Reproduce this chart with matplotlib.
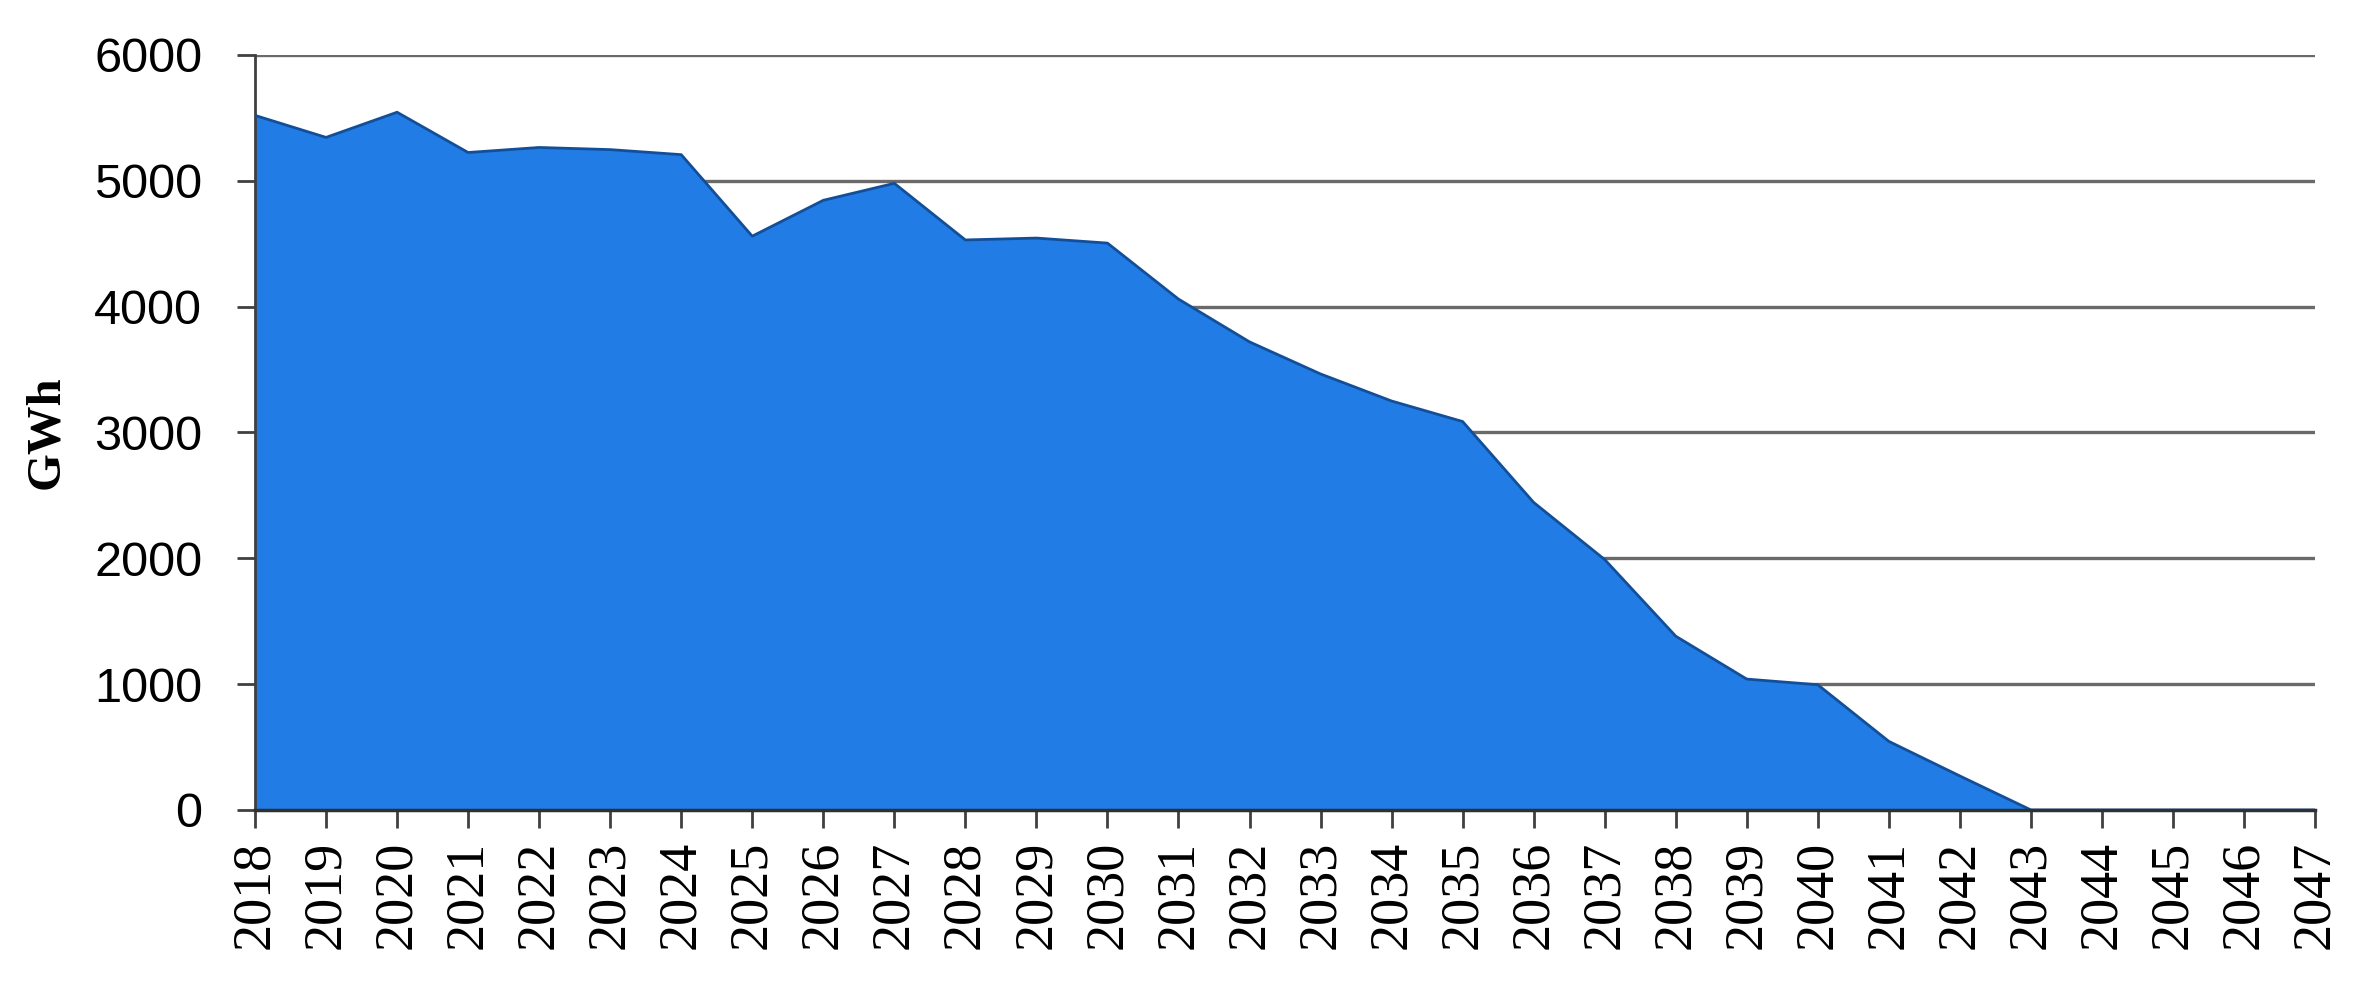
import numpy as np
import matplotlib.pyplot as plt

# Yearly energy values (GWh)
years = list(range(2018, 2048))
energy_gwh = [5520, 5345, 5545, 5225, 5265, 5248, 5208, 4560, 4845, 4980,
              4530, 4545, 4505, 4060, 3720, 3465, 3250, 3087, 2444, 1990,
              1381, 1040, 995, 545, 270, 0, 0, 0, 0, 0]
y_ticks = [0, 1000, 2000, 3000, 4000, 5000, 6000]

plt.rcParams['font.family'] = ['Liberation Serif', 'DejaVu Serif']

fig = plt.figure(figsize=(23.72, 9.82), dpi=100)
ax = fig.add_axes([0.1075, 0.1752, 0.8685, 0.7688])

# Horizontal gridlines behind the area
for v in y_ticks[1:]:
    ax.axhline(v, color='#6a6a6a', linewidth=2.4, zorder=1)

# The area with a darker outline
ax.fill_between(years, energy_gwh, 0, color='#217ce5', zorder=2, linewidth=0)
ax.plot(years, energy_gwh, color='#134f99', linewidth=2, zorder=3)

ax.set_xlim(2018, 2047)
ax.set_ylim(0, 6000)
ax.set_xticks(years)
ax.set_xticklabels([str(y) for y in years], rotation=90, fontsize=39)
ax.set_yticks(y_ticks)
ax.set_yticklabels([str(v) for v in y_ticks], fontsize=35,
                   family=['Liberation Sans', 'DejaVu Sans'])
ax.set_ylabel('GWh', fontsize=35, fontweight='bold', labelpad=19)

for side in ['top', 'right']:
    ax.spines[side].set_visible(False)
ax.spines['left'].set_color('#404040')
ax.spines['left'].set_linewidth(2)
ax.spines['bottom'].set_color('#303030')
ax.spines['bottom'].set_linewidth(2.5)
ax.spines['bottom'].set_zorder(4)
ax.tick_params(axis='x', direction='out', length=13, width=2, color='#404040', pad=9)
ax.tick_params(axis='y', direction='out', length=13, width=2, color='#404040', pad=25)

fig.savefig('out.png', dpi=100, facecolor='white')
